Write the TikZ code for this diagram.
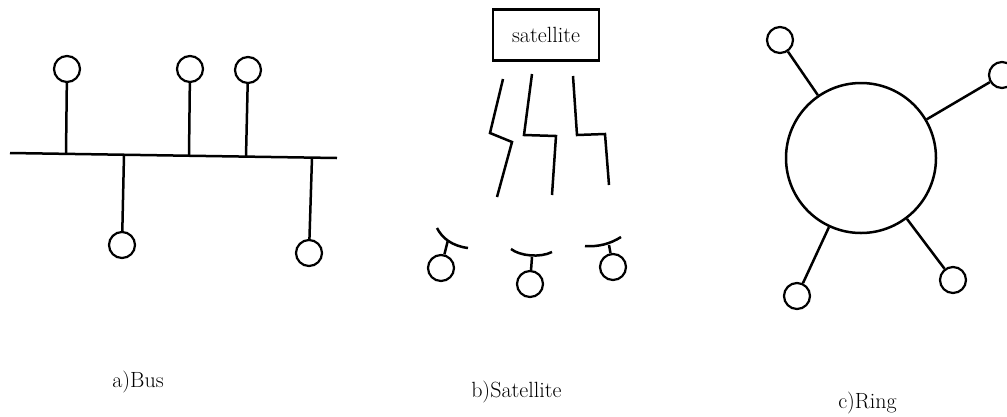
\documentclass[tikz,border=0pt]{standalone}
\begin{document}
\begin{tikzpicture}[x=1pt,y=-1pt,line width=2.5pt,
  station/.style={circle,draw,line width=2.2pt,minimum size=26pt,inner sep=0pt},
  lbl/.style={inner sep=0pt,font=\fontsize{22}{26}\selectfont},
  satbox/.style={draw,line width=2.2pt,minimum width=106pt,minimum height=51pt,inner sep=0pt,font=\fontsize{22}{26}\selectfont}]
\useasboundingbox (0,0) rectangle (1007,416);
% ---------- a) Bus ----------
\coordinate (busL) at (10,153);
\coordinate (busR) at (337,158);
\draw (busL) -- (busR);
\node[station] (b1) at (67,69) {};
\node[station] (b2) at (190,69) {};
\node[station] (b3) at (248,70) {};
\node[station] (b4) at (122,245) {};
\node[station] (b5) at (309,253) {};
\coordinate (t1) at (66,154);
\coordinate (t2) at (189,155.8);
\coordinate (t3) at (246,156.6);
\coordinate (t4) at (124,154.8);
\coordinate (t5) at (312,157.6);
\draw (b1) -- (t1);
\draw (b2) -- (t2);
\draw (b3) -- (t3);
\draw (b4) -- (t4);
\draw (b5) -- (t5);
\node[lbl,anchor=base west] (la) at (111,387) {a)Bus};
% ---------- b) Satellite ----------
\node[satbox] (sat) at (546,35) {satellite};
\draw (503,79) -- (490,133) -- (512,142) -- (497,197);
\draw (532,74) -- (524,135) -- (556,136) -- (552,195);
\draw (573,76) -- (577,135) -- (605,134) -- (609,185);
% dishes
\node[station] (s1) at (441,268) {};
\node[station] (s2) at (530,284) {};
\node[station] (s3) at (613,267) {};
\coordinate (d1) at (448,240);
\coordinate (d2) at (532,257);
\coordinate (d3) at (609,245);
\draw (437,228) .. controls (442,238) and (452,246) .. (468,248);
\draw (511,249) .. controls (520,256) and (540,258) .. (552,252);
\draw (585,246) .. controls (598,247) and (610,244) .. (621,237);
\draw (d1) -- (s1);
\draw (d2) -- (s2);
\draw (d3) -- (s3);
\node[lbl,anchor=base west] (lb) at (470,397) {b)Satellite};
% ---------- c) Ring ----------
\node[circle,draw,line width=2.5pt,minimum size=150pt,inner sep=0pt] (ring) at (861,158) {};
\node[station] (r1) at (780,40) {};
\node[station] (r2) at (1002,75) {};
\node[station] (r3) at (797,296) {};
\node[station] (r4) at (953,280) {};
\draw (ring) -- (r1);
\draw (ring) -- (r2);
\draw (ring) -- (r3);
\draw (ring) -- (r4);
\node[lbl,anchor=base west] (lc) at (837,408) {c)Ring};
\end{tikzpicture}
\end{document}
